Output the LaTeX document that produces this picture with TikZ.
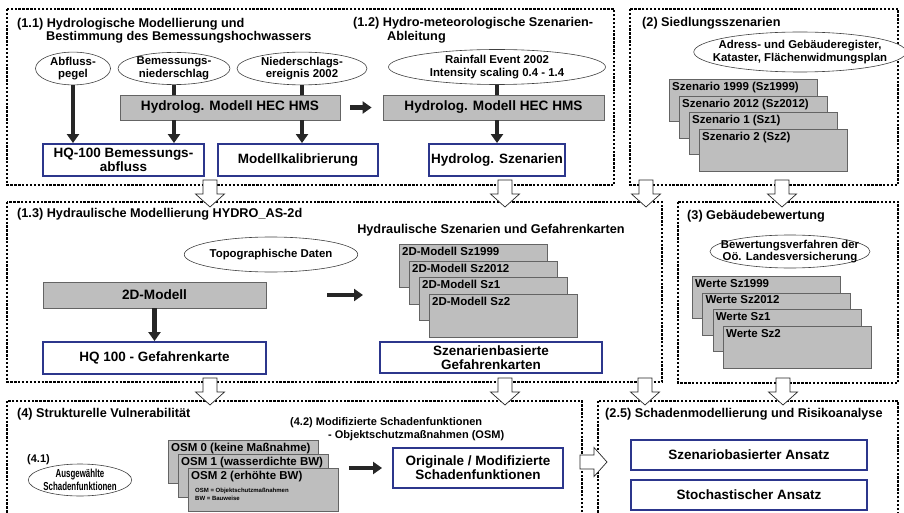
\documentclass[tikz,border=0pt]{standalone}
\usepackage{fontspec}
\setmainfont{Liberation Sans}
\newfontfamily\narrowsans[FakeStretch=0.68]{Liberation Sans}
\usetikzlibrary{arrows.meta,shapes.geometric}

\definecolor{frameblue}{RGB}{44,54,140}
\definecolor{modelgrey}{RGB}{190,190,190}
\definecolor{edgegrey}{RGB}{100,100,100}

\tikzset{
  panel/.style={draw=black, line width=1.2pt, dash pattern=on 2.4pt off 1.5pt},
  paneltitle/.style={anchor=base west, inner sep=0pt, font=\bfseries\fontsize{12.7}{14}\selectfont},
  subtitle/.style={anchor=base west, inner sep=0pt, font=\bfseries\fontsize{11}{13}\selectfont},
  source/.style={ellipse, draw=black!75, fill=white, line width=0.6pt, inner sep=0pt, align=center,
    font=\bfseries\fontsize{11.4}{12.5}\selectfont},
  model/.style={draw=edgegrey, fill=modelgrey, line width=0.8pt, inner sep=0pt,
    font=\bfseries\fontsize{13.6}{15}\selectfont},
  result/.style={draw=frameblue, fill=white, line width=1.9pt, inner sep=0pt, align=center,
    font=\bfseries\fontsize{13.5}{14}\selectfont},
  layer/.style={draw=edgegrey, fill=modelgrey, line width=0.8pt, anchor=north west,
    minimum width=148, minimum height=42},
  layertext/.style={anchor=north west, inner sep=3pt, font=\bfseries\fontsize{11.5}{13}\selectfont},
  flow/.style={draw=black!85, line width=4.5pt, -{Triangle[width=12pt,length=9pt]}},
  feed/.style={draw=black!85, line width=4.5pt},
  handover/.pic={
    \draw[draw=black!85, fill=white, line width=0.7pt, line join=miter]
      (0,-7) -- (14,-7) -- (14,-14.5) -- (27,0) -- (14,14.5) -- (14,7) -- (0,7) -- cycle;
  }
}

\begin{document}
\begin{tikzpicture}[x=1pt, y=-1pt]
  \clip (0,0) rectangle (904,513);

  % dashed work packages
  \draw[panel] (7,9) rectangle (614,185);
  \draw[panel] (630,9) rectangle (898,185);
  \draw[panel] (7,202) rectangle (662,382);
  \draw[panel] (678,202) rectangle (898,383);
  \draw[panel] (7,401) rectangle (582,520);
  \draw[panel] (598,401) rectangle (898,520);

  % (1.1) and (1.2) hydrology
  \node[paneltitle] (t11a) at (17,27.3) {(1.1) Hydrologische Modellierung und};
  \node[paneltitle] (t11b) at (46,40.7) {Bestimmung des Bemessungshochwassers};
  \node[paneltitle] (t12a) at (353,27) {(1.2) Hydro-meteorologische Szenarien-};
  \node[paneltitle] (t12b) at (387,40.7) {Ableitung};

  \node[source, minimum width=75, minimum height=27] (pegel) at (73,68.5) {Abfluss-\\pegel};
  \node[source, minimum width=112, minimum height=27] (bemniederschlag) at (174,68.5) {Bemessungs-\\niederschlag};
  \node[source, minimum width=130, minimum height=27] (ereignis) at (302,68.5) {Niederschlags-\\ereignis 2002};
  \node[source, minimum width=217, minimum height=35] (rainfall) at (497,67) {Rainfall Event 2002\\Intensity scaling 0.4 - 1.4};

  \node[model, minimum width=220, minimum height=25] (hecA) at (230,107.5) {Hydrolog. Modell HEC HMS};
  \node[model, minimum width=221, minimum height=25] (hecB) at (493.5,107.5) {Hydrolog. Modell HEC HMS};

  \node[result, minimum width=161, minimum height=32] (hq100) at (123.5,160) {HQ-100 Bemessungs-\\abfluss};
  \node[result, minimum width=160, minimum height=32] (kalib) at (298,160) {Modellkalibrierung};
  \node[result, minimum width=136, minimum height=32] (hydszen) at (497,160) {Hydrolog. Szenarien};

  \draw[flow] (pegel.south) -- (pegel.south |- hq100.north);
  \draw[feed] (bemniederschlag.south) -- (bemniederschlag.south |- hecA.north);
  \draw[flow] (bemniederschlag.south |- hecA.south) -- (bemniederschlag.south |- hq100.north);
  \draw[feed] (ereignis.south) -- (ereignis.south |- hecA.north);
  \draw[flow] (ereignis.south |- hecA.south) -- (ereignis.south |- kalib.north);
  \draw[feed] (rainfall.south) -- (rainfall.south |- hecB.north);
  \draw[flow] (rainfall.south |- hecB.south) -- (rainfall.south |- hydszen.north);
  \draw[flow, shorten <=10pt, shorten >=11pt] (hecA.east) -- (hecB.west);

  % (2) settlement scenarios
  \node[paneltitle] (t2) at (642,27) {(2) Siedlungsszenarien};
  \node[source, minimum width=195, minimum height=40, inner xsep=-12pt] (register) at (800,52)
    {Adress- und Gebäuderegister,\\Kataster, Flächenwidmungsplan};
  \foreach \name/\txt [count=\i from 0] in {sz1999/Szenario 1999 (Sz1999), sz2012/Szenario 2012 (Sz2012),
      sz1/Szenario 1 (Sz1), sz2/Szenario 2 (Sz2)}
    \node[layer, label={[layertext]north west:{\txt}}] (\name) at ({669+10*\i},{79+16.7*\i}) {};

  % (1.3) hydraulics
  \node[paneltitle] (t13) at (17,217.7) {(1.3) Hydraulische Modellierung HYDRO\_AS-2d};
  \node[paneltitle, anchor=base] (t13b) at (491,233) {Hydraulische Szenarien und Gefahrenkarten};
  \node[source, minimum width=170, minimum height=35] (topo) at (271,254.5) {Topographische Daten};
  \node[model, minimum width=223, minimum height=26] (zweid) at (154.5,295) {2D-Modell};
  \node[result, minimum width=223, minimum height=32] (hqkarte) at (154.5,358) {HQ 100 - Gefahrenkarte};
  \draw[flow] (zweid.south) -- (hqkarte.north);
  \foreach \name/\txt [count=\i from 0] in {msz1999/2D-Modell Sz1999, msz2012/2D-Modell Sz2012,
      msz1/2D-Modell Sz1, msz2/2D-Modell Sz2}
    \node[layer, minimum height=43, label={[layertext]north west:{\txt}}] (\name) at ({399+10*\i},{244+16.7*\i}) {};
  \draw[flow, shorten <=61pt, shorten >=36pt] (zweid.east) -- (zweid.east -| msz1999.west);
  \node[result, minimum width=222, minimum height=31] (szkarten) at (491,357.5) {Szenarienbasierte\\Gefahrenkarten};

  % (3) building values
  \node[paneltitle] (t3) at (687,219) {(3) Gebäudebewertung};
  \node[source, minimum width=155, minimum height=33, inner xsep=-12.5pt] (bewertung) at (790,251.5)
    {Bewertungsverfahren der\\Oö. Landesversicherung};
  \foreach \name/\txt [count=\i from 0] in {w1999/Werte Sz1999, w2012/Werte Sz2012,
      wsz1/Werte Sz1, wsz2/Werte Sz2}
    \node[layer, label={[layertext]north west:{\txt}}] (\name) at ({692+10.3*\i},{276+16.7*\i}) {};

  % (4) vulnerability
  \node[paneltitle] (t4) at (17,417.7) {(4) Strukturelle Vulnerabilität};
  \node[subtitle] (t41) at (27,462) {(4.1)};
  \node[source, minimum width=76, minimum height=32, font=\bfseries\narrowsans\fontsize{11.6}{12.5}\selectfont]
    (auswahl) at (80,480) {Ausgewählte\\Schadenfunktionen};
  \node[subtitle] (t42a) at (290,425) {(4.2) Modifizierte Schadenfunktionen};
  \node[subtitle] (t42b) at (328,438.7) {- Objektschutzmaßnahmen (OSM)};
  \foreach \name/\txt [count=\i from 0] in {osm0/OSM 0 (keine Maßnahme), osm1/OSM 1 (wasserdichte BW),
      osm2/OSM 2 (erhöhte BW)}
    \node[layer, minimum width=150, minimum height=43, label={[layertext]north west:{\txt}}] (\name) at ({168+10*\i},{440+14*\i}) {};
  \node[anchor=base west, inner sep=0pt, align=left, font=\bfseries\fontsize{6}{8}\selectfont]
    (osmnote) at (195,500) {OSM = Objektschutzmaßnahmen\\BW = Bauweise};
  \node[result, minimum width=170, minimum height=40] (orig) at (478,468) {Originale / Modifizierte\\Schadenfunktionen};
  \draw[flow, shorten <=10pt, shorten >=10pt] (orig.west -| osm2.east) -- (orig.west);

  % (2.5) damage and risk
  \node[paneltitle] (t25) at (605,417.7) {(2.5) Schadenmodellierung und Risikoanalyse};
  \node[result, minimum width=236, minimum height=30] (szansatz) at (749,455) {Szenariobasierter Ansatz};
  \node[result, minimum width=236, minimum height=30] (stochansatz) at (749,495) {Stochastischer Ansatz};

  % hand-over arrows between the packages
  \foreach \x in {210,505,646,782}
    \pic[rotate=-90] at (\x,180) {handover};
  \foreach \x in {210,505,645,783}
    \pic[rotate=-90] at (\x,378) {handover};
  \pic at (580,462) {handover};
\end{tikzpicture}
\end{document}
